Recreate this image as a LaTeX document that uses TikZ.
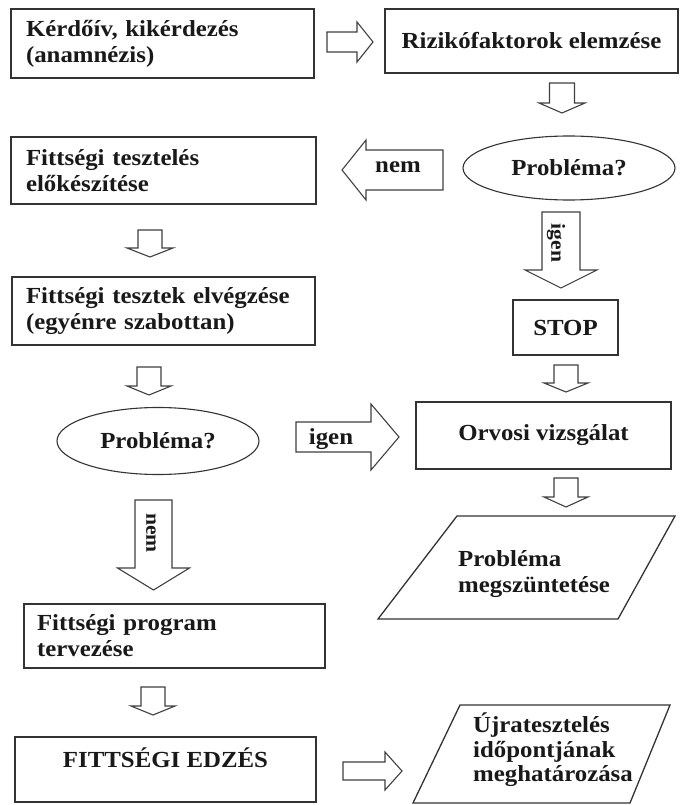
\documentclass[tikz,border=0pt]{standalone}
\usepackage{fontspec}
\setmainfont[FakeStretch=1.08]{Liberation Serif}
\usetikzlibrary{shapes.geometric}
\newcommand\DownArr[6]{\draw[barrow] ({#1-#5},{#2}) -- ({#1+#5},{#2}) -- ({#1+#5},{#3}) -- ({#1+#6},{#3}) -- ({#1},{#4}) -- ({#1-#6},{#3}) -- ({#1-#5},{#3}) -- cycle;}
\newcommand\SideArr[6]{\draw[barrow] ({#1},{#4-#5}) -- ({#2},{#4-#5}) -- ({#2},{#4-#6}) -- ({#3},{#4}) -- ({#2},{#4+#6}) -- ({#2},{#4+#5}) -- ({#1},{#4+#5}) -- cycle;}
\begin{document}
\begin{tikzpicture}[x=1pt,y=-1pt,
  txt/.style={font=\fontsize{23}{26}\selectfont\bfseries, text=black!90},
  box/.style={txt, draw=black!80, line width=1.3pt, rectangle, inner sep=0pt},
  oval/.style={txt, draw=black!80, line width=1.1pt, ellipse, inner sep=0pt},
  barrow/.style={draw=black!75, line width=1.1pt, fill=white, line join=miter},
  para/.style={draw=black!80, line width=1.3pt},
  rot/.style={font=\fontsize{20}{22}\selectfont\bfseries, text=black!90, rotate=-90, inner sep=0pt}]
\fill[white] (0,0) rectangle (683,805);
\useasboundingbox (0,0) rectangle (683,805);

% boxes
\node[box, minimum width=303pt, minimum height=69pt, text width=273pt, align=left] (kerdoiv) at (162.5,43.5) {Kérdőív, kikérdezés\\(anamnézis)};
\node[box, minimum width=293pt, minimum height=64pt] (rizik) at (531.5,41) {Rizikófaktorok elemzése};
\node[oval, minimum width=212pt, minimum height=64pt] (prob1) at (569,168) {Probléma?};
\node[box, minimum width=305pt, minimum height=67pt, text width=275pt, align=left] (elok) at (163.5,170.5) {Fittségi tesztelés\\előkészítése};
\node[box, minimum width=105pt, minimum height=55pt] (stop) at (565.5,327.5) {STOP};
\node[box, minimum width=303pt, minimum height=68pt, text width=275pt, align=left] (tesztek) at (163.5,311) {Fittségi tesztek elvégzése\\(egyénre szabottan)};
\node[oval, minimum width=202pt, minimum height=67pt] (prob2) at (158,441) {Probléma?};
\node[box, minimum width=255pt, minimum height=67pt] (orvosi) at (543.5,435.5) {Orvosi vizsgálat};
\node[box, minimum width=301pt, minimum height=64pt, text width=275pt, align=left] (program) at (174.5,636) {Fittségi program\\tervezése};
\node[box, minimum width=301pt, minimum height=65pt, text height=17pt, text depth=22pt] (edzes) at (165.5,769.5) {FITTSÉGI EDZÉS};

% parallelograms
\coordinate (pa1) at (457,516); \coordinate (pa2) at (675,516);
\coordinate (pa3) at (618,619); \coordinate (pa4) at (378,619);
\draw[para] (pa1) -- (pa2) -- (pa3) -- (pa4) -- cycle;
\node[txt, anchor=west, align=left, inner sep=0pt] (megszunt) at (458,574) {Probléma\\megszüntetése};
\coordinate (pb1) at (460,705); \coordinate (pb2) at (670,705);
\coordinate (pb3) at (630,803); \coordinate (pb4) at (413,803);
\draw[para] (pb1) -- (pb2) -- (pb3) -- (pb4) -- cycle;
\node[txt, font=\fontsize{23}{24.5}\selectfont\bfseries, anchor=west, align=left, inner sep=0pt] (ujra) at (473,750) {Újratesztelés\\időpontjának\\meghatározása};

% block arrows
\SideArr{327}{357}{373}{42}{10}{20}
\DownArr{562}{83}{103}{113}{12.5}{23}
\SideArr{443}{366}{342}{170}{20}{30}
\node[txt, inner sep=0pt] (nemh) at (398,167) {nem};
\DownArr{150}{230}{248}{257}{12}{23}
\DownArr{561}{212}{270}{288}{19}{36}
\node[rot] (igenv) at (556,243) {igen};
\DownArr{149}{367}{386}{395}{12}{22}
\DownArr{566}{365}{383}{392}{12}{22}
\SideArr{296}{371}{399}{437}{15}{33}
\node[txt, inner sep=0pt] (igenh) at (331,439) {igen};
\DownArr{566}{478}{497}{507}{12}{22}
\DownArr{153.5}{500}{568}{590}{18.5}{36}
\node[rot] (nemv) at (151,533) {nem};
\DownArr{153}{687}{706}{715}{12}{22}
\SideArr{343}{385}{402}{771}{9}{19}
\end{tikzpicture}
\end{document}
